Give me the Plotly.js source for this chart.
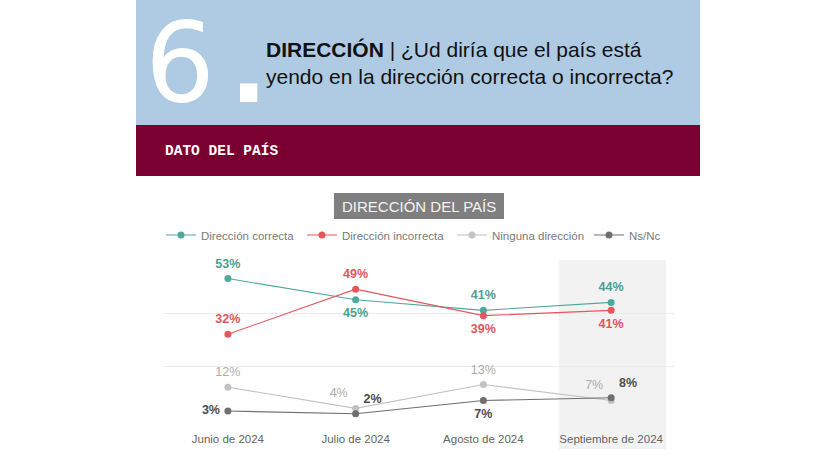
<!DOCTYPE html>
<html>
<head>
<meta charset="utf-8">
<script src="https://cdn.plot.ly/plotly-3.0.1.min.js"></script>
<style>
  html, body { margin: 0; padding: 0; background: #ffffff; }
  #chart { width: 819px; height: 460px; }
</style>
</head>
<body>
<div id="chart"></div>
<script>
// ---- data ----
const months = ['Junio de 2024', 'Julio de 2024', 'Agosto de 2024', 'Septiembre de 2024'];
const seriesNames = ['Dirección correcta', 'Dirección incorrecta', 'Ninguna dirección', 'Ns/Nc'];
const correcta = [53, 45, 41, 44];
const incorrecta = [32, 49, 39, 41];
const ninguna = [12, 4, 13, 7];
const nsnc = [3, 2, 7, 8];
const yTicks = [0, 20, 40, 60];

// ---- layout geometry (pixels) ----
const W = 819, H = 460, L = 164, R = 144, T = 260, B = 41;
const plotW = W - L - R, plotH = H - T - B;
const px = x => (x - L) / plotW;
const py = y => (H - B - y) / plotH;

const colors = ['#4fa99b', '#e5565b', '#c2c2c2', '#6f6f6f'];
const labelColors = ['#4a9f92', '#e0565a', '#ababab', '#4d4d4d'];
const labelWeights = ['bold', 'bold', 'normal', 'bold'];
const positions = [
  ['top center', 'bottom center', 'top center', 'top center'],
  ['top center', 'top center', 'bottom center', 'bottom center'],
  ['top center', 'top left', 'top center', 'top left'],
  ['middle left', 'top right', 'bottom center', 'top right']
];
const allSeries = [correcta, incorrecta, ninguna, nsnc];
const legendIds = ['legend', 'legend2', 'legend3', 'legend4'];
const legendTextStart = [201, 342, 492, 629];

const traces = [];
allSeries.forEach((vals, i) => {
  traces.push({
    type: 'scatter', mode: 'lines+markers',
    x: months, y: vals, name: seriesNames[i],
    line: { color: colors[i], width: 1.1 },
    marker: { color: colors[i], size: 7 },
    legend: legendIds[i],
    hoverinfo: 'skip'
  });
});
allSeries.forEach((vals, i) => {
  traces.push({
    type: 'scatter', mode: 'markers+text',
    x: months, y: vals, showlegend: false,
    marker: { size: 11, color: 'rgba(0,0,0,0)' },
    text: vals.map(v => v + '%'),
    textposition: positions[i],
    textfont: { family: 'Liberation Sans, Arial, sans-serif', size: 12.5, color: labelColors[i], weight: labelWeights[i] },
    cliponaxis: false,
    hoverinfo: 'skip'
  });
});

const shapes = [
  { type: 'rect', xref: 'paper', yref: 'paper', x0: px(136), x1: px(700), y0: py(125), y1: py(0),
    fillcolor: '#aecbe3', line: { width: 0 }, layer: 'below' },
  { type: 'rect', xref: 'paper', yref: 'paper', x0: px(136), x1: px(700), y0: py(176), y1: py(125),
    fillcolor: '#7a0031', line: { width: 0 }, layer: 'below' },
  { type: 'rect', xref: 'paper', yref: 'paper', x0: px(334), x1: px(504), y0: py(219), y1: py(193),
    fillcolor: '#7f7f7f', line: { width: 0 }, layer: 'below' },
  { type: 'rect', xref: 'x', yref: 'paper', x0: 2.59, x1: 3.43, y0: py(449), y1: 1,
    fillcolor: '#f2f2f2', line: { width: 0 }, layer: 'below' }
];

const annotations = [
  { text: '6', xref: 'paper', yref: 'paper', x: px(180), y: py(63), xanchor: 'center', yanchor: 'middle',
    showarrow: false, font: { family: 'DejaVu Sans, sans-serif', size: 110, color: '#ffffff' } },
  { text: '.', xref: 'paper', yref: 'paper', x: px(248), y: py(68), xanchor: 'center', yanchor: 'middle',
    showarrow: false, font: { family: 'DejaVu Sans, sans-serif', size: 98, color: '#ffffff', weight: 'bold' } },
  { text: '<b>DIRECCIÓN</b> | ¿Ud diría que el país está<br>yendo en la dirección correcta o incorrecta?',
    xref: 'paper', yref: 'paper', x: px(264), y: py(63), xanchor: 'left', yanchor: 'middle', align: 'left',
    showarrow: false, font: { family: 'Liberation Sans, Arial, sans-serif', size: 21, color: '#111111' } },
  { text: 'DATO DEL PAÍS', xref: 'paper', yref: 'paper', x: px(163), y: py(150), xanchor: 'left', yanchor: 'middle',
    showarrow: false, font: { family: 'Liberation Mono, Courier New, monospace', size: 14.5, color: '#ffffff', weight: 'bold' } },
  { text: 'DIRECCIÓN DEL PAÍS', xref: 'paper', yref: 'paper', x: px(419), y: py(206), xanchor: 'center', yanchor: 'middle',
    showarrow: false, font: { family: 'Liberation Sans, Arial, sans-serif', size: 15, color: '#f4f4f4' } }
];

const layout = {
  width: W, height: H,
  margin: { l: L, r: R, t: T, b: B, pad: 0 },
  paper_bgcolor: '#ffffff', plot_bgcolor: 'rgba(0,0,0,0)',
  font: { family: 'Liberation Sans, Arial, sans-serif', color: '#666666' },
  showlegend: true,
  xaxis: {
    type: 'category', categoryorder: 'array', categoryarray: months,
    range: [-0.5, 3.5], showgrid: false, zeroline: false, showline: false,
    ticks: 'outside', ticklen: 9, tickcolor: 'rgba(0,0,0,0)',
    tickfont: { size: 11.5, color: '#646464' }, fixedrange: true
  },
  yaxis: {
    range: [0, 60], tickvals: yTicks, showticklabels: false,
    showgrid: true, gridcolor: '#ebebeb', gridwidth: 1, zeroline: false, showline: false, fixedrange: true
  },
  shapes: shapes,
  annotations: annotations
};
legendIds.forEach((id, i) => {
  layout[id] = {
    orientation: 'h', x: px(legendTextStart[i] - 40), y: py(235),
    xanchor: 'left', yanchor: 'middle', bgcolor: 'rgba(0,0,0,0)', borderwidth: 0,
    font: { size: 11.5, color: '#7a7a7a' }
  };
});

Plotly.newPlot('chart', traces, layout, { displayModeBar: false, staticPlot: true });
</script>
</body>
</html>
